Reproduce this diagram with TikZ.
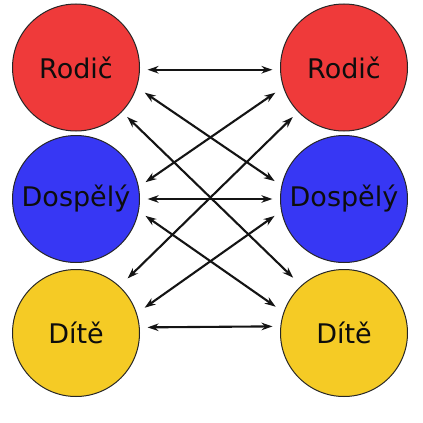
\documentclass[tikz,border=0pt]{standalone}
\usepackage{fontspec}
\setmainfont{DejaVu Sans}
\usetikzlibrary{arrows.meta}
\definecolor{cred}{HTML}{EF3A3A}
\definecolor{cblue}{HTML}{3737F4}
\definecolor{cyellow}{HTML}{F5CB25}
\tikzset{
  person/.style={circle, draw=black!85, line width=1pt, minimum size=127pt, inner sep=0pt,
    font=\fontsize{27}{31}\selectfont, text=black!95},
  link/.style={{Stealth[length=11pt,width=7.5pt,inset=3.5pt]}-{Stealth[length=11pt,width=7.5pt,inset=3.5pt]}, line width=2.1pt, black!92}
}
\begin{document}
\begin{tikzpicture}[x=1pt,y=-1pt]
\useasboundingbox (0,0) rectangle (423,423);
\node[person, fill=cred]    (l1) at (76,67.5) {Rodič};
\node[person, fill=cblue]   (l2) at (76,199)  {Dospělý};
\node[person, fill=cyellow] (l3) at (76,333)  {Dítě};
\node[person, fill=cred]    (r1) at (344,67.5) {Rodič};
\node[person, fill=cblue]   (r2) at (344,199)  {Dospělý};
\node[person, fill=cyellow] (r3) at (344,333)  {Dítě};
% horizontal
\draw[link, shorten <=7.6pt, shorten >=7.6pt] (l1.-2.3) -- (r1.182.3);
\draw[link, shorten <=7.6pt, shorten >=7.6pt] (l2.east) -- (r2.west);
\draw[link, shorten <=7.8pt, shorten >=7.8pt] (l3.5.4) -- (r3.174.6);
% diagonals
\draw[link, shorten <=9.5pt, shorten >=8.1pt] (l1.-18.5) -- (r2.168.7);
\draw[link, shorten <=8.1pt, shorten >=9.5pt] (l2.11.3) -- (r1.198.5);
\draw[link, shorten <=8.1pt, shorten >=9.5pt] (l2.-11.3) -- (r3.161.5);
\draw[link, shorten <=9.5pt, shorten >=8.1pt] (l3.18.5) -- (r2.191.3);
\draw[link, shorten <=7.2pt, shorten >=11.1pt] (l1.-44.1) -- (r3.132.3);
\draw[link, shorten <=11.1pt, shorten >=7.2pt] (l3.47.7) -- (r1.224.1);
\end{tikzpicture}
\end{document}
